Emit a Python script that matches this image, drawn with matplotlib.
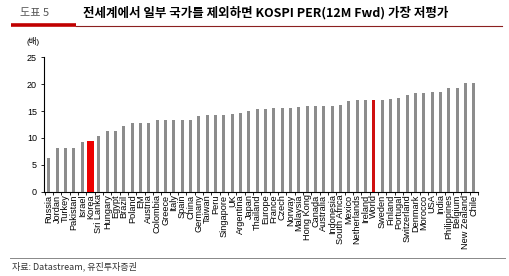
import matplotlib as mpl
mpl.use('Agg')
import matplotlib.pyplot as plt
import numpy as np

plt.rcParams['font.family'] = ['Liberation Sans', 'Noto Sans CJK KR', 'DejaVu Sans']

countries = ['Russia', 'Jordan', 'Turkey', 'Pakistan', 'Israel', 'Korea', 'Sri Lanka',
             'Hungary', 'Egypt', 'Brazil', 'Poland', 'EM', 'Austria', 'Colombia', 'Greece',
             'Italy', 'Spain', 'China', 'Germany', 'Taiwan', 'Peru', 'Singapore', 'UK',
             'Argentina', 'Japan', 'Thailand', 'Europe', 'France', 'Czech', 'Norway',
             'Malaysia', 'Hong Kong', 'Canada', 'Australia', 'Indonesia', 'South Africa',
             'Mexico', 'Netherlands', 'Ireland', 'World', 'Sweden', 'Finland', 'Portugal',
             'Switzerland', 'Denmark', 'Morocco', 'USA', 'India', 'Philippines', 'Belgium',
             'New Zealand', 'Chile']
per = [6.3, 8.1, 8.2, 8.2, 9.2, 9.5, 10.3,
       11.2, 11.2, 12.3, 12.7, 12.7, 12.7, 13.3, 13.4,
       13.4, 13.4, 13.4, 14.0, 14.2, 14.2, 14.2, 14.4,
       14.6, 15.0, 15.4, 15.4, 15.6, 15.6, 15.6,
       15.8, 15.9, 15.9, 15.9, 15.9, 16.2,
       16.9, 17.0, 17.0, 17.0, 17.0, 17.2, 17.4,
       17.9, 18.4, 18.4, 18.5, 18.5, 19.2, 19.2,
       20.2, 20.2]
yticks = [0, 5, 10, 15, 20, 25]

fig = plt.figure(figsize=(5.1, 2.76), dpi=100)
ax = fig.add_axes([44/510, 84.3/276, 434/510, 134.4/276])

x = np.arange(len(countries))
colors = []
widths = []
for c in countries:
    if c == 'Korea':
        colors.append('#ee0000')
        widths.append(0.8)
    elif c == 'World':
        colors.append('#d01010')
        widths.append(0.36)
    else:
        colors.append('#8c8c8c')
        widths.append(0.36)
ax.bar(x, per, width=widths, color=colors, zorder=3)

ax.set_xlim(-0.6, len(countries) - 0.64)
ax.set_ylim(0, 25)
ax.set_yticks(yticks)
ax.tick_params(axis='y', labelsize=6.5, length=2, width=0.6, pad=3)
ax.set_xticks(x)
ax.set_xticklabels(countries, rotation=90, fontsize=6.6)
ax.tick_params(axis='x', which='major', length=0, pad=2)
ax.set_xticks(np.arange(-0.5, len(countries), 1), minor=True)
ax.tick_params(axis='x', which='minor', length=2.5, width=0.6, direction='out')
for s in ['top', 'right']:
    ax.spines[s].set_visible(False)
for s in ['left', 'bottom']:
    ax.spines[s].set_linewidth(0.8)

fig.text(27/510, 1 - 42/276, '(배)', fontsize=6, va='center', ha='left')

# title area
fig.text(20/510, 1 - 13/276, '도표 5', fontsize=8, color='#555555', va='center', ha='left',
         family=['Noto Sans CJK KR'])
fig.text(83/510, 1 - 13/276, '전세계에서 일부 국가를 제외하면 KOSPI PER(12M Fwd) 가장 저평가',
         fontsize=9, fontweight='bold', va='center', ha='left',
         family=['Noto Sans CJK KR', 'DejaVu Sans'])
fig.add_artist(plt.Line2D([76/510, 502/510], [1 - 26.3/276] * 2, color='#8b2020', lw=0.8))
fig.add_artist(plt.Line2D([11/510, 76/510], [1 - 24.5/276] * 2, color='#c00000', lw=2.6,
                          solid_capstyle='butt'))

# source
fig.add_artist(plt.Line2D([10/510, 505/510], [1 - 258/276] * 2, color='#888888', lw=0.7))
fig.text(12/510, 1 - 266.5/276, '자료: Datastream, 유진투자증권', fontsize=6.5, color='#333333',
         va='center', ha='left', family=['Noto Sans CJK KR', 'DejaVu Sans'])

fig.savefig('out.png', dpi=100)
